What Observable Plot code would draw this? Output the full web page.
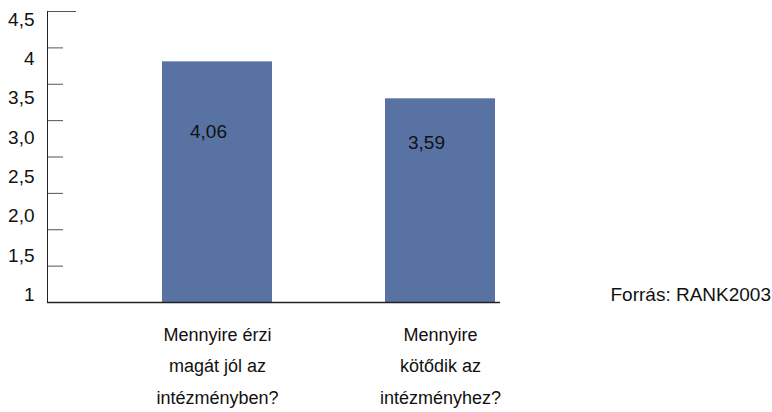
<!DOCTYPE html>
<html><head><meta charset="utf-8">
<script src="https://cdn.jsdelivr.net/npm/d3@7"></script>
<script src="https://cdn.jsdelivr.net/npm/@observablehq/plot@0.6"></script>
<style>body{margin:0;background:#fff}</style>
</head><body><div id="chart"></div>
<script>
const categories = ["Mennyire érzi\nmagát jól az\nintézményben?", "Mennyire\nkötődik az\nintézményhez?"];
const values = [4.06, 3.59];
const valueLabels = ["4,06", "3,59"];
const yTickValues = [1, 1.5, 2, 2.5, 3, 3.5, 4, 4.5];
const yTickLabels = ["1", "1,5", "2,0", "2,5", "3,0", "3,5", "4", "4,5"];
const source = "Forrás: RANK2003";
const yDomain = [1, 4.7];

const data = categories.map((c, i) => ({category: c, value: values[i], label: valueLabels[i]}));
const tickMarks = d3.range(9).map(i => yDomain[0] + i * (yDomain[1] - yDomain[0]) / 8);
const font = "'Liberation Sans', Arial, sans-serif";

const chart = Plot.plot({
  width: 772, height: 412,
  marginTop: 11, marginBottom: 110, marginLeft: 47, marginRight: 272,
  style: {fontFamily: font, background: "#fff", color: "#111"},
  x: {domain: categories, paddingInner: 0.507, paddingOuter: 0.269, align: 0.958},
  y: {domain: yDomain},
  marks: [
    Plot.barY(data, {x: "category", y1: yDomain[0], y2: "value", fill: "#5873a3"}),
    Plot.axisY(yTickValues, {tickFormat: d => yTickLabels[yTickValues.indexOf(d)], tickSize: 0, tickPadding: 13, dy: -7.5, fontSize: 19, fill: "#111", label: null}),
    Plot.axisY(tickMarks.slice(0, -1), {tickSize: 16, dx: 16, stroke: "#555", fill: "none", label: null}),
    Plot.axisY([yDomain[1]], {tickSize: 29, dx: 29, stroke: "#555", fill: "none", label: null}),
    Plot.axisX({tickSize: 0, tickPadding: 16, fontSize: 18, lineHeight: 1.75, label: null, fill: "#111"}),
    Plot.frame({anchor: "left", stroke: "#222"}),
    Plot.ruleY([yDomain[0]], {stroke: "#222", strokeWidth: 1.5}),
    Plot.text([data[0]], {x: "category", y: "value", text: "label", dx: -9, dy: 70, fontSize: 19, fill: "#111"}),
    Plot.text([data[1]], {x: "category", y: "value", text: "label", dx: -14, dy: 44, fontSize: 19, fill: "#111"}),
    Plot.text([source], {frameAnchor: "bottom-right", textAnchor: "start", dx: 110, dy: -2, fontSize: 19, fill: "#111"})
  ]
});
document.getElementById("chart").append(chart);
</script>
</body></html>
